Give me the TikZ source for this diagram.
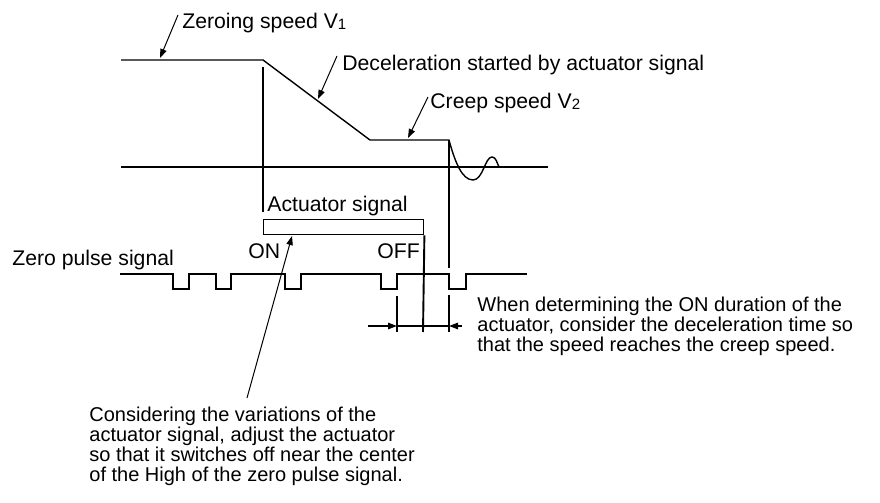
\documentclass[tikz,border=0pt]{standalone}
\usepackage{fontspec}
\setmainfont{Liberation Sans}
\usetikzlibrary{arrows.meta}
\begin{document}
\begin{tikzpicture}[x=0.5pt,y=-0.5pt,
  lbl/.style={font=\fontsize{10.6}{11}\selectfont, inner sep=0pt, anchor=base west},
  para/.style={font=\fontsize{10}{10}\selectfont, inner sep=0pt, anchor=north west, align=left},
  prof/.style={line width=0.7pt},
  vline/.style={line width=0.95pt},
  lead/.style={line width=0.5pt, -{Triangle[length=4.5pt,width=3.2pt]}},
  dimarr/.style={line width=0.8pt, -{Triangle[length=4.5pt,width=3.2pt]}}]
\useasboundingbox (0,0) rectangle (880,503);
% speed profile
\coordinate (p0) at (121,60);
\coordinate (p1) at (263,60);
\coordinate (p2) at (370,140);
\coordinate (p3) at (449,140);
\coordinate (o1) at (473,180);
\coordinate (o2) at (492,157);
\coordinate (o3) at (499,167);
\draw[prof] (p0) -- (p1) -- (p2) -- (p3)
  .. controls (455,162) and (462,180) .. (o1)
  .. controls (483,180) and (485,157) .. (o2)
  .. controls (496,157) and (497,163) .. (o3);
% axis
\coordinate (a0) at (121,167);
\coordinate (a1) at (548,167);
\draw[vline] (a0) -- (a1);
% verticals
\coordinate (v1t) at (263,67);
\coordinate (v1b) at (263,212);
\draw[vline] (v1t) -- (v1b);
\coordinate (v2b) at (449,268);
\draw[vline] (p3) -- (v2b);
\coordinate (v3t) at (449,295);
\coordinate (v3b) at (449,332);
\draw[vline] (v3t) -- (v3b);
% actuator box
\node[draw, line width=0.7pt, minimum width=80pt, minimum height=7.5pt, inner sep=0pt, anchor=north west] (box) at (263,219) {};
\coordinate (v4b) at (423,332);
\draw[vline] (box.south east) -- (v4b);
\coordinate (v5t) at (397,296);
\coordinate (v5b) at (397,332);
\draw[vline] (v5t) -- (v5b);
% dimension
\coordinate (d0) at (368,326);
\coordinate (d1) at (397,326);
\coordinate (d2) at (449,326);
\coordinate (d3) at (462,326);
\draw[dimarr] (d0) -- (d1);
\draw[line width=0.8pt] (d1) -- (d2);
\draw[dimarr] (d3) -- (d2);
% zero pulse signal
\coordinate (z0) at (120,274);
\coordinate (z1) at (527,274);
\draw[prof] (z0) -- (173,274) -- (173,289) -- (189,289) -- (189,274)
  -- (216,274) -- (216,289) -- (231,289) -- (231,274)
  -- (285,274) -- (285,289) -- (301,289) -- (301,274)
  -- (381,274) -- (381,289) -- (397,289) -- (397,274)
  -- (449,274) -- (449,289) -- (466,289) -- (466,274) -- (z1);
% labels
\node[lbl] (tz) at (182,28) {Zeroing speed V\raisebox{-0.5pt}{\fontsize{7.5}{7.5}\selectfont 1}};
\node[lbl] (td) at (342,70) {Deceleration started by actuator signal};
\node[lbl] (tc) at (430,108) {Creep speed V\raisebox{-0.5pt}{\fontsize{7.5}{7.5}\selectfont 2}};
\node[lbl] (ta) at (267,211) {Actuator signal};
\node[lbl] (ton) at (248,258) {ON};
\node[lbl] (toff) at (377,258) {OFF};
\node[lbl] (tzp) at (12,265) {Zero pulse signal};
\node[para] (tw) at (477,297) {When determining the ON duration of the\\actuator, consider the deceleration time so\\that the speed reaches the creep speed.};
\node[para] (tk) at (89,407) {Considering the variations of the\\actuator signal, adjust the actuator\\so that it switches off near the center\\of the High of the zero pulse signal.};
% leaders
\coordinate (lz0) at (178,15);  \coordinate (lz1) at (160,58);
\coordinate (ld0) at (337,56);  \coordinate (ld1) at (318,99);
\coordinate (lc0) at (428,97);  \coordinate (lc1) at (408,138);
\coordinate (lk0) at (247,398); \coordinate (lk1) at (292,236);
\draw[lead] (lz0) -- (lz1);
\draw[lead] (ld0) -- (ld1);
\draw[lead] (lc0) -- (lc1);
\draw[lead] (lk0) -- (lk1);
\end{tikzpicture}
\end{document}
